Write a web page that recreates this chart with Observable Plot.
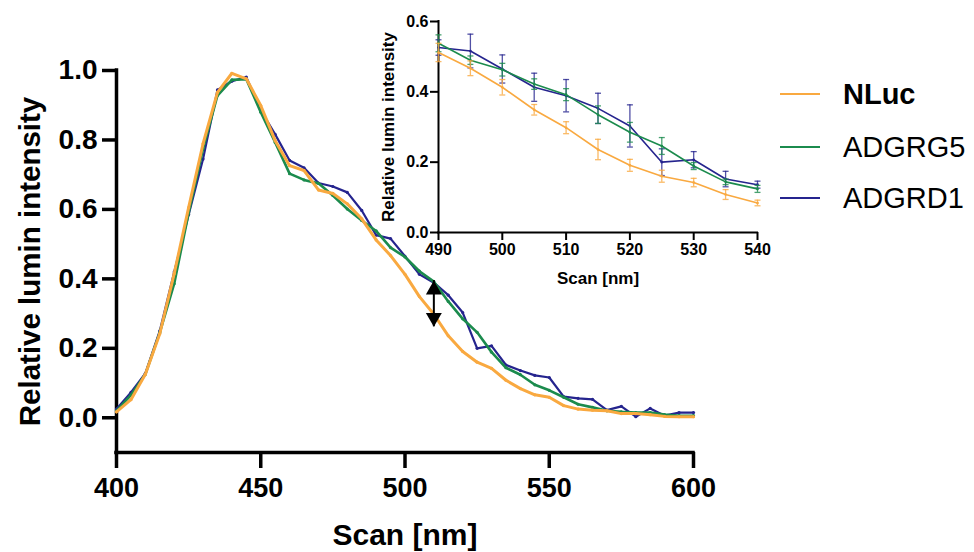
<!DOCTYPE html>
<html><head><meta charset="utf-8">
<script src="https://cdn.jsdelivr.net/npm/d3@7"></script>
<script src="https://cdn.jsdelivr.net/npm/@observablehq/plot@0.6"></script>
<style>
body{margin:0;background:#fff;font-family:"Liberation Sans",Arial,sans-serif;}
#wrap{position:relative;width:974px;height:552px;overflow:hidden;}
#wrap svg{position:absolute;}
.lg{position:absolute;left:780px;height:40px;display:flex;align-items:center;font-size:29px;color:#000;white-space:nowrap;}
.lg .sw{width:40px;height:2px;margin-right:23px;}
</style></head>
<body><div id="wrap"></div>
<script>
// ---- data ----
const wavelengths = [400,405,410,415,420,425,430,435,440,445,450,455,460,465,470,475,480,485,490,495,500,505,510,515,520,525,530,535,540,545,550,555,560,565,570,575,580,585,590,595,600];
const nluc   = [0.017,0.052,0.125,0.242,0.415,0.605,0.789,0.937,0.992,0.976,0.899,0.798,0.726,0.712,0.656,0.646,0.616,0.573,0.512,0.467,0.413,0.349,0.298,0.236,0.191,0.160,0.142,0.108,0.084,0.066,0.059,0.035,0.025,0.022,0.020,0.012,0.012,0.009,0.004,0.003,0.003];
const adgrg5 = [0.020,0.065,0.125,0.245,0.386,0.590,0.775,0.928,0.973,0.975,0.880,0.793,0.703,0.685,0.675,0.640,0.601,0.568,0.538,0.490,0.463,0.422,0.392,0.335,0.285,0.246,0.189,0.144,0.124,0.095,0.079,0.059,0.039,0.030,0.020,0.017,0.015,0.015,0.009,0.006,0.006];
const adgrd1 = [0.025,0.073,0.128,0.250,0.420,0.585,0.745,0.944,0.969,0.981,0.885,0.816,0.741,0.720,0.676,0.666,0.649,0.597,0.526,0.516,0.465,0.413,0.389,0.353,0.303,0.200,0.207,0.152,0.136,0.122,0.116,0.061,0.056,0.053,0.022,0.033,0.003,0.027,0.006,0.015,0.015];

const insetWavelengths = [490,495,500,505,510,515,520,525,530,535,540];
const nlucSD   = [0.026,0.021,0.022,0.015,0.017,0.029,0.017,0.017,0.012,0.014,0.008];
const adgrg5SD = [0.024,0.012,0.018,0.015,0.017,0.025,0.028,0.024,0.010,0.008,0.010];
const adgrd1SD = [0.022,0.048,0.040,0.040,0.046,0.043,0.060,0.038,0.023,0.022,0.010];

const seriesNames  = ["NLuc","ADGRG5","ADGRD1"];
const seriesColors = ["#F9A940","#1B8B4D","#25248E"];
const seriesValues = [nluc, adgrg5, adgrd1];
const seriesSD     = [nlucSD, adgrg5SD, adgrd1SD];

const mainXTicks = [400,450,500,550,600];
const mainYTicks = [0,0.2,0.4,0.6,0.8,1.0];
const insetXTicks = [490,500,510,520,530,540];
const insetYTicks = [0,0.2,0.4,0.6];

const arrowAnnot = [{nm:510, top:0.395, bottom:0.262}];

// ---- build ----
const FONT = '"Liberation Sans", Arial, sans-serif';
const series = seriesNames.map((name,i)=>({
  name, color: seriesColors[i],
  rows: wavelengths.map((w,j)=>({nm:w, v:seriesValues[i][j]})),
  inset: insetWavelengths.map((w,j)=>({nm:w, v:seriesValues[i][wavelengths.indexOf(w)], sd:seriesSD[i][j]}))
}));
const drawOrder = [2,1,0];
const mainWidths = [3,2.6,2.2];

const capSymbol = {draw(ctx, size){ const w = Math.sqrt(size/Math.PI); ctx.moveTo(-w,0); ctx.lineTo(w,0); }};

const mainMarks = [
  Plot.axisX({ticks:mainXTicks, tickSize:16, tickPadding:9, fontSize:27, fontWeight:"bold", strokeWidth:3.5, label:null, tickFormat:d=>String(d)}),
  Plot.axisY({ticks:mainYTicks, tickSize:14, tickPadding:5, fontSize:28, fontWeight:"bold", strokeWidth:3.5, label:null, tickFormat:d=>d.toFixed(1)}),
  Plot.ruleY([-0.1], {stroke:"black", strokeWidth:3.5, strokeLinecap:"square"}),
  Plot.ruleX([400], {y1:-0.1, y2:1.0, stroke:"black", strokeWidth:3.5, strokeLinecap:"square"}),
  Plot.text(["Relative lumin intensity"], {text:d=>d, frameAnchor:"left", dx:-86, rotate:-90, textAnchor:"middle", lineAnchor:"middle", fontSize:29.5, fontWeight:"bold", fill:"black"}),
  Plot.text(["Scan [nm]"], {text:d=>d, frameAnchor:"bottom", dy:83, textAnchor:"middle", lineAnchor:"middle", fontSize:30, fontWeight:"bold", fill:"black"})
];
for (const i of drawOrder) {
  const s = series[i];
  mainMarks.push(Plot.line(s.rows, {x:"nm", y:"v", stroke:s.color, strokeWidth:mainWidths[i], strokeLinejoin:"round"}));
  mainMarks.push(Plot.dot(s.rows, {x:"nm", y:"v", r:1.6, fill:s.color}));
}
mainMarks.push(Plot.ruleX(arrowAnnot, {x:"nm", y1:"top", y2:"bottom", stroke:"black", strokeWidth:2}));
mainMarks.push(Plot.dot(arrowAnnot, {x:"nm", y:"top", dy:9.2, r:7.6, symbol:"triangle2", fill:"black"}));
mainMarks.push(Plot.dot(arrowAnnot, {x:"nm", y:"bottom", dy:-9.2, r:7.6, symbol:"triangle2", rotate:180, fill:"black"}));

const main = Plot.plot({
  width:974, height:552, marginLeft:116, marginRight:281, marginTop:70, marginBottom:100,
  style:{fontFamily:FONT, background:"transparent", overflow:"visible"},
  x:{domain:[400,600]}, y:{domain:[-0.1,1.0]},
  marks: mainMarks
});

const insetMarks = [
  Plot.axisX({ticks:insetXTicks, tickSize:8, tickPadding:3, fontSize:16, fontWeight:"bold", strokeWidth:2, label:null, tickFormat:d=>String(d)}),
  Plot.axisY({ticks:insetYTicks, tickSize:8, tickPadding:2, fontSize:16, fontWeight:"bold", strokeWidth:2, label:null, tickFormat:d=>d.toFixed(1)}),
  Plot.ruleY([0], {stroke:"black", strokeWidth:2, strokeLinecap:"square"}),
  Plot.ruleX([490], {y1:0, y2:0.6, stroke:"black", strokeWidth:2, strokeLinecap:"square"}),
  Plot.text(["Relative lumin intensity"], {text:d=>d, frameAnchor:"left", dx:-50, rotate:-90, textAnchor:"middle", lineAnchor:"middle", fontSize:17, fontWeight:"bold", fill:"black"}),
  Plot.text(["Scan [nm]"], {text:d=>d, frameAnchor:"bottom", dy:46, textAnchor:"middle", lineAnchor:"middle", fontSize:17, fontWeight:"bold", fill:"black"})
];
for (const i of drawOrder) {
  const s = series[i];
  insetMarks.push(Plot.ruleX(s.inset, {x:"nm", y1:d=>d.v-d.sd, y2:d=>d.v+d.sd, stroke:s.color, strokeWidth:1.3, strokeOpacity:0.8}));
  insetMarks.push(Plot.dot(s.inset, {x:"nm", y:d=>d.v+d.sd, r:3, symbol:capSymbol, stroke:s.color, strokeWidth:1.3, strokeOpacity:0.8}));
  insetMarks.push(Plot.dot(s.inset, {x:"nm", y:d=>d.v-d.sd, r:3, symbol:capSymbol, stroke:s.color, strokeWidth:1.3, strokeOpacity:0.8}));
  insetMarks.push(Plot.line(s.inset, {x:"nm", y:"v", stroke:s.color, strokeWidth:1.6}));
  insetMarks.push(Plot.dot(s.inset, {x:"nm", y:"v", r:1.3, fill:s.color}));
}
const inset = Plot.plot({
  width:400, height:300, marginLeft:68, marginRight:13, marginTop:21, marginBottom:68,
  style:{fontFamily:FONT, background:"transparent", overflow:"visible"},
  x:{domain:[490,540]}, y:{domain:[0,0.6]},
  marks: insetMarks
});

const wrap = document.getElementById("wrap");
main.style.left = "0px"; main.style.top = "0px";
inset.style.left = "370px"; inset.style.top = "0px";
wrap.appendChild(main);
wrap.appendChild(inset);

const legendY = [94,147,198];
seriesNames.forEach((name,i)=>{
  const row = document.createElement("div");
  row.className = "lg";
  row.style.top = (legendY[i]-20) + "px";
  row.style.fontWeight = i===0 ? "bold" : "normal";
  const sw = document.createElement("div");
  sw.className = "sw"; sw.style.background = seriesColors[i];
  const t = document.createElement("span");
  t.textContent = name;
  row.appendChild(sw); row.appendChild(t);
  wrap.appendChild(row);
});
</script>
</body></html>
